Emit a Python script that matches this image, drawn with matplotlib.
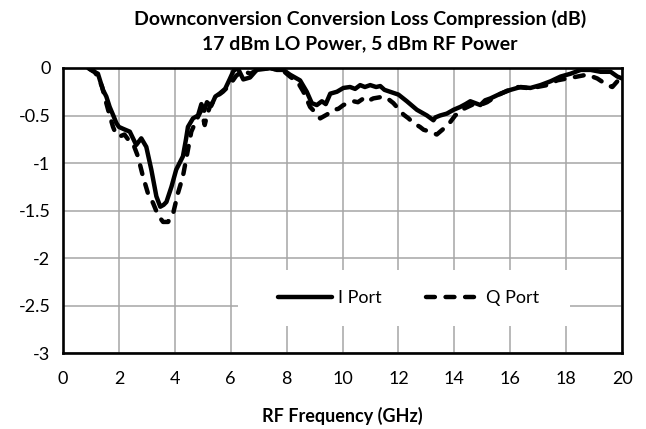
import matplotlib
matplotlib.use("Agg")
import matplotlib.pyplot as plt
from matplotlib.patches import Rectangle

plt.rcParams['font.family'] = ['Lato', 'DejaVu Sans']

# I Port (solid) - RF frequency (GHz) vs conversion loss compression (dB)
i_freq = [0.9, 1.05, 1.25, 1.43, 1.55, 1.67, 1.8, 1.91, 2.0, 2.15, 2.39, 2.62, 2.8, 2.98,
          3.16, 3.34, 3.48, 3.6, 3.7, 3.88, 4.05, 4.29, 4.4, 4.47, 4.65, 4.83, 4.95, 5.05,
          5.15, 5.3, 5.45, 5.6, 5.8, 5.96, 6.1, 6.25, 6.45, 6.69, 6.93, 7.2, 7.41, 7.65,
          7.88, 8.12, 8.3, 8.48, 8.72, 8.9, 9.08, 9.26, 9.4, 9.56, 9.8, 10.03, 10.27, 10.45,
          10.63, 10.8, 10.99, 11.2, 11.35, 11.5, 11.7, 12.0, 12.3, 12.66, 13.02, 13.25,
          13.32, 13.49, 13.73, 13.97, 14.21, 14.4, 14.57, 14.75, 14.93, 15.1, 15.29, 15.65,
          16.01, 16.37, 16.72, 17.08, 17.44, 17.8, 18.16, 18.52, 18.87, 19.23, 19.59,
          19.83, 20.0]
i_loss = [0.0, -0.03, -0.06, -0.23, -0.3, -0.41, -0.5, -0.58, -0.62, -0.64, -0.67, -0.81,
          -0.74, -0.83, -1.07, -1.35, -1.46, -1.44, -1.41, -1.25, -1.07, -0.93, -0.75,
          -0.62, -0.53, -0.5, -0.38, -0.45, -0.36, -0.4, -0.3, -0.27, -0.22, -0.12, -0.03,
          0.0, -0.12, -0.1, -0.02, -0.01, 0.0, -0.02, -0.02, -0.07, -0.1, -0.13, -0.25,
          -0.37, -0.39, -0.35, -0.38, -0.27, -0.25, -0.21, -0.2, -0.22, -0.18, -0.2, -0.18,
          -0.2, -0.19, -0.23, -0.25, -0.28, -0.35, -0.44, -0.5, -0.55, -0.52, -0.5, -0.48,
          -0.44, -0.41, -0.38, -0.35, -0.37, -0.39, -0.34, -0.32, -0.27, -0.23, -0.2,
          -0.21, -0.18, -0.14, -0.09, -0.06, -0.02, -0.02, -0.04, -0.04, -0.09, -0.11]

# Q Port (dashed)
q_freq = [0.95, 1.1, 1.25, 1.4, 1.55, 1.67, 1.79, 1.9, 2.03, 2.2, 2.35, 2.5, 2.68, 2.86,
          3.04, 3.22, 3.4, 3.58, 3.76, 3.94, 4.11, 4.29, 4.47, 4.59, 4.77, 4.95, 5.07,
          5.15, 5.25, 5.49, 5.72, 5.96, 6.2, 6.44, 6.7, 6.95, 7.4, 7.88, 8.12, 8.4, 8.6,
          8.84, 9.0, 9.2, 9.44, 9.68, 9.85, 10.03, 10.2, 10.39, 10.55, 10.75, 10.9, 11.1,
          11.3, 11.46, 11.65, 11.82, 12.0, 12.18, 12.36, 12.54, 12.77, 12.9, 13.13, 13.37,
          13.61, 13.85, 14.03, 14.33, 14.69, 15.0, 15.17, 15.53, 15.88, 16.24, 16.6, 16.96,
          17.32, 17.68, 18.04, 18.4, 18.75, 19.11, 19.47, 19.65, 19.83, 20.0]
q_loss = [-0.01, -0.03, -0.09, -0.2, -0.37, -0.5, -0.62, -0.7, -0.72, -0.7, -0.76, -0.79,
          -0.93, -1.14, -1.32, -1.42, -1.55, -1.62, -1.62, -1.53, -1.32, -1.14, -0.86,
          -0.67, -0.55, -0.44, -0.6, -0.5, -0.41, -0.3, -0.25, -0.18, -0.08, -0.03, -0.06,
          -0.02, 0.0, -0.03, -0.09, -0.15, -0.25, -0.41, -0.46, -0.53, -0.49, -0.44, -0.43,
          -0.39, -0.37, -0.35, -0.36, -0.32, -0.35, -0.32, -0.31, -0.3, -0.33, -0.37, -0.43,
          -0.49, -0.53, -0.58, -0.62, -0.65, -0.67, -0.7, -0.64, -0.57, -0.5, -0.43, -0.38,
          -0.38, -0.36, -0.29, -0.24, -0.2, -0.21, -0.2, -0.18, -0.13, -0.11, -0.09, -0.07,
          -0.11, -0.18, -0.2, -0.14, -0.21]

x_ticks = [0, 2, 4, 6, 8, 10, 12, 14, 16, 18, 20]
y_ticks = [0, -0.5, -1, -1.5, -2, -2.5, -3]
y_labels = ["0", "-0.5", "-1", "-1.5", "-2", "-2.5", "-3"]

fig = plt.figure(figsize=(6.46, 4.29), dpi=100)
ax = fig.add_axes([0.0975, 0.177, 0.8655, 0.6645])

ax.plot(i_freq, i_loss, color="black", lw=3.2, solid_capstyle="round",
        solid_joinstyle="round", label="I Port", zorder=4)
ax.plot(q_freq, q_loss, color="black", lw=3.2, dashes=(2.0, 2.4),
        dash_capstyle="round", label="Q Port", zorder=4)

ax.set_xlim(0, 20)
ax.set_ylim(-3, 0)
ax.set_xticks(x_ticks)
ax.set_yticks(y_ticks)
ax.set_yticklabels(y_labels)
ax.tick_params(length=0, labelsize=13)
ax.tick_params(axis="x", pad=13)
ax.tick_params(axis="y", pad=9)
ax.grid(True, color="#a6a6a6", lw=1.1, zorder=0)
ax.set_axisbelow(True)
for s in ax.spines.values():
    s.set_linewidth(1.9)
    s.set_color("black")
    s.set_zorder(5)

# white box behind the legend hides the gridlines
ax.add_patch(Rectangle((0.313, 0.095), 0.594, 0.196, transform=ax.transAxes,
                       facecolor="white", edgecolor="none", zorder=2))
ax.legend(loc="center", bbox_to_anchor=(0.618, 0.193), ncol=2, frameon=False,
          fontsize=13, handlelength=3.0, handletextpad=0.3, columnspacing=2.5)

ax.set_xlabel("RF Frequency (GHz)", fontsize=13, fontweight="bold", labelpad=14)
fig.text(0.557, 0.955, "Downconversion Conversion Loss Compression (dB)",
         ha="center", va="center", fontsize=14, fontweight="bold")
fig.text(0.557, 0.898, "17 dBm LO Power, 5 dBm RF Power",
         ha="center", va="center", fontsize=14, fontweight="bold")

fig.savefig("out.png", dpi=100)
